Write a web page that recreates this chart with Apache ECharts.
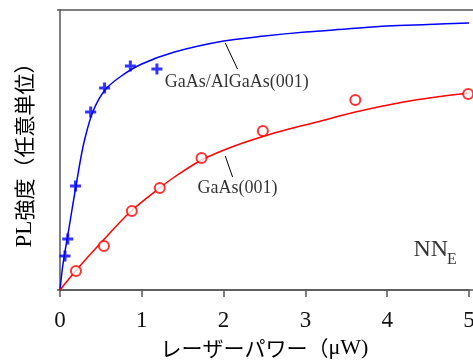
<!DOCTYPE html>
<html>
<head>
<meta charset="utf-8">
<script src="https://cdn.jsdelivr.net/npm/echarts@6/dist/echarts.min.js"></script>
<style>
  html, body { margin: 0; padding: 0; background: #fff; }
  #chart { width: 473px; height: 361px; }
</style>
</head>
<body>
<div id="chart"></div>
<script>
// x tick values
var xTicks = [0, 1, 2, 3, 4, 5];

// GaAs/AlGaAs(001) measured points (+)
var qwX = [0.061, 0.095, 0.19, 0.375, 0.545, 0.86, 1.185];
var qwY = [34, 51, 104, 178, 202, 224, 221];

// GaAs(001) measured points (o)
var bulkX = [0.195, 0.537, 0.878, 1.22, 1.73, 2.48, 3.61, 4.99];
var bulkY = [19, 44, 79, 102, 132, 159, 190, 196];

// fitted curves
var qwFitX = [0, 0.03, 0.06, 0.1, 0.15, 0.2, 0.25, 0.3, 0.4, 0.55, 0.75, 1.0, 1.4, 2.0, 2.5, 3.0, 3.5, 4.0, 4.5, 5.0];
var qwFitY = [0, 22, 38, 57, 82, 106, 130, 150, 178, 200, 214, 226, 238, 249, 254, 258, 261, 264, 265.5, 267];
var bulkFitX = [0, 0.19, 0.53, 0.87, 1.21, 1.4, 1.73, 2.1, 2.48, 2.8, 3.17, 3.61, 4.2, 4.6, 5.0];
var bulkFitY = [0, 19, 50, 79, 101.5, 113, 130, 143, 153.5, 161, 168.5, 178, 188, 193, 197];

// annotation texts and leader lines
var labelText = ['GaAs/AlGaAs(001)', 'GaAs(001)'];
var labelPos = [[1.28, 208], [1.68, 102]];
var leader1 = [[2.02, 247], [2.17, 221]];
var leader2 = [[2.02, 134], [2.11, 113]];
var tagText = ['NN', 'E'];
var tagPos = [[4.32, 40], [4.73, 30]];

function pairs(xs, ys) {
    var out = [];
    for (var i = 0; i < xs.length; i++) { out.push([xs[i], ys[i]]); }
    return out;
}

var serif = 'Liberation Serif';
var plus = 'path://M4,0H7V4H11V7H7V11H4V7H0V4H4Z';

var chart = echarts.init(document.getElementById('chart'));
chart.setOption({
    animation: false,
    grid: { left: 60, right: 4, top: 10, bottom: 71, outerBoundsMode: 'none', containLabel: false },
    graphic: [{
        type: 'line',
        shape: { x1: 57, y1: 10, x2: 473, y2: 10 },
        style: { stroke: '#555', lineWidth: 1.5 }
    }, {
        type: 'line',
        shape: { x1: 57, y1: 290, x2: 473, y2: 290 },
        style: { stroke: '#555', lineWidth: 1.5 }
    }],
    xAxis: {
        type: 'value', min: xTicks[0], max: xTicks[xTicks.length - 1], interval: 1,
        splitLine: { show: false },
        axisLine: { lineStyle: { color: '#555', width: 1.5 } },
        axisTick: { inside: false, length: 7, lineStyle: { color: '#555', width: 1.5 } },
        axisLabel: { color: '#111', fontFamily: serif, fontSize: 23, margin: 19 },
        name: '{a|レーザーパワー（}{b|μW)}',
        nameLocation: 'middle', nameGap: 47,
        nameTextStyle: {
            rich: {
                a: { fontFamily: 'Noto Sans CJK JP', fontSize: 21, color: '#000' },
                b: { fontFamily: serif, fontSize: 22, color: '#000' }
            }
        }
    },
    yAxis: {
        type: 'value', min: 0, max: 280, offset: 3,
        splitLine: { show: false },
        axisLine: { show: true, lineStyle: { color: '#555', width: 1.5 } },
        axisTick: { show: false },
        axisLabel: { show: false },
        name: '{p|PL}{a|強度（任意単位）}',
        nameLocation: 'middle', nameRotate: 90, nameGap: 21,
        nameTextStyle: {
            rich: {
                p: { fontFamily: serif, fontSize: 23, color: '#000' },
                a: { fontFamily: 'Noto Sans CJK JP', fontSize: 21, color: '#000' }
            }
        }
    },
    series: [
        {
            type: 'line', data: pairs(qwFitX, qwFitY), smooth: 0.3, symbol: 'none',
            lineStyle: { color: '#0000ff', width: 1.5 }, z: 2
        },
        {
            type: 'line', data: pairs(bulkFitX, bulkFitY), smooth: 0.3, symbol: 'none',
            lineStyle: { color: '#ff0000', width: 1.5 }, z: 2,
            markLine: {
                silent: true, symbol: 'none', label: { show: false },
                lineStyle: { color: '#000', width: 1, type: 'solid' },
                data: [
                    [{ coord: leader1[0] }, { coord: leader1[1] }],
                    [{ coord: leader2[0] }, { coord: leader2[1] }]
                ]
            }
        },
        {
            type: 'scatter', data: pairs(qwX, qwY), symbol: plus, symbolSize: 11,
            itemStyle: { color: '#0000ff' }, z: 3
        },
        {
            type: 'scatter', data: pairs(bulkX, bulkY), symbol: 'emptyCircle', symbolSize: 10,
            itemStyle: { color: '#ff0000', borderWidth: 1.3 }, z: 3
        },
        {
            type: 'scatter', symbolSize: 0, silent: true,
            data: labelPos.map(function (p, i) { return { value: p, name: labelText[i] }; }),
            label: {
                show: true, position: 'right', distance: 0,
                formatter: '{b}', fontFamily: serif, fontSize: 18, color: '#000'
            }
        },
        {
            type: 'scatter', symbolSize: 0, silent: true,
            data: [
                { value: tagPos[0], name: tagText[0], label: { fontSize: 24 } },
                { value: tagPos[1], name: tagText[1], label: { fontSize: 16 } }
            ],
            label: {
                show: true, position: 'right', distance: 0,
                formatter: '{b}', fontFamily: serif, color: '#000'
            }
        }
    ]
});
</script>
</body>
</html>
